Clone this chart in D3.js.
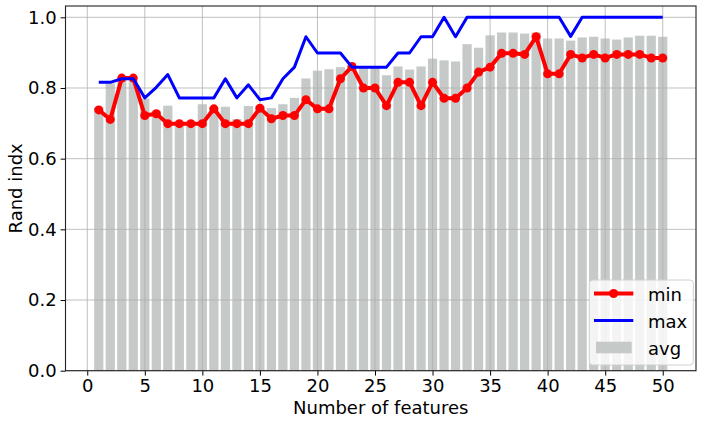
<!DOCTYPE html>
<html>
<head>
<meta charset="utf-8">
<script src="https://cdn.jsdelivr.net/npm/d3@7"></script>
<style>
  body { margin: 0; background: #fff; }
  svg { display: block; font-family: "DejaVu Sans", sans-serif; }
</style>
</head>
<body>
<script>
const width = 703;
const height = 424;
const marginTop = 6;
const marginRight = 7;
const marginBottom = 53.3;
const marginLeft = 65.5;

// number of features 1..50
const features = d3.range(1, 51);

const minVals = [0.738, 0.711, 0.828, 0.828, 0.722, 0.727, 0.699, 0.699, 0.699, 0.699,
                 0.741, 0.699, 0.699, 0.699, 0.743, 0.713, 0.722, 0.722, 0.767, 0.741,
                 0.741, 0.826, 0.861, 0.800, 0.800, 0.750, 0.816, 0.816, 0.750, 0.816,
                 0.771, 0.771, 0.800, 0.845, 0.859, 0.898, 0.898, 0.895, 0.945, 0.840,
                 0.840, 0.895, 0.885, 0.895, 0.885, 0.895, 0.895, 0.895, 0.885, 0.885];

const maxVals = [0.816, 0.816, 0.826, 0.826, 0.772, 0.802, 0.838, 0.772, 0.772, 0.772,
                 0.772, 0.826, 0.772, 0.809, 0.767, 0.772, 0.826, 0.859, 0.945, 0.899,
                 0.899, 0.899, 0.859, 0.859, 0.859, 0.859, 0.899, 0.899, 0.945, 0.945,
                 1.000, 0.945, 1.000, 1.000, 1.000, 1.000, 1.000, 1.000, 1.000, 1.000,
                 1.000, 0.946, 1.000, 1.000, 1.000, 1.000, 1.000, 1.000, 1.000, 1.000];

const avgVals = [0.745, 0.813, 0.825, 0.822, 0.770, 0.735, 0.750, 0.705, 0.705, 0.754,
                 0.745, 0.747, 0.712, 0.749, 0.749, 0.743, 0.754, 0.772, 0.827, 0.849,
                 0.853, 0.859, 0.860, 0.857, 0.857, 0.836, 0.861, 0.852, 0.861, 0.883,
                 0.878, 0.875, 0.924, 0.914, 0.949, 0.957, 0.957, 0.954, 0.957, 0.940,
                 0.940, 0.934, 0.943, 0.945, 0.940, 0.937, 0.943, 0.948, 0.948, 0.945];

const xTicks = [0, 5, 10, 15, 20, 25, 30, 35, 40, 45, 50];
const yTicks = [0.0, 0.2, 0.4, 0.6, 0.8, 1.0];

const x = d3.scaleLinear()
  .domain([-1.89, 52.89])
  .range([marginLeft, width - marginRight]);

const y = d3.scaleLinear()
  .domain([0, 1.032])
  .range([height - marginBottom, marginTop]);

const svg = d3.select("body").append("svg")
  .attr("width", width)
  .attr("height", height)
  .attr("viewBox", [0, 0, width, height]);

// bars (avg)
const barW = x(0.8) - x(0);
svg.append("g")
  .selectAll("rect")
  .data(features)
  .join("rect")
    .attr("x", d => x(d) - barW / 2)
    .attr("width", barW)
    .attr("y", (d, i) => y(avgVals[i]))
    .attr("height", (d, i) => y(0) - y(avgVals[i]))
    .attr("fill", "#c5c9c7");

// grid
const grid = svg.append("g").attr("stroke", "#b0b0b0").attr("stroke-width", 0.8);
grid.selectAll(".gx")
  .data(xTicks)
  .join("line")
    .attr("x1", d => x(d)).attr("x2", d => x(d))
    .attr("y1", marginTop).attr("y2", height - marginBottom);
grid.selectAll(".gy")
  .data(yTicks)
  .join("line")
    .attr("class", "gy")
    .attr("y1", d => y(d)).attr("y2", d => y(d))
    .attr("x1", marginLeft).attr("x2", width - marginRight);

// min line with markers
const line = d3.line()
  .x((d, i) => x(features[i]))
  .y(d => y(d));

svg.append("path")
  .datum(minVals)
  .attr("fill", "none")
  .attr("stroke", "red")
  .attr("stroke-width", 4)
  .attr("stroke-linejoin", "round")
  .attr("d", line);

svg.append("g")
  .selectAll("circle")
  .data(minVals)
  .join("circle")
    .attr("cx", (d, i) => x(features[i]))
    .attr("cy", d => y(d))
    .attr("r", 4.5)
    .attr("fill", "red");

// max line
svg.append("path")
  .datum(maxVals)
  .attr("fill", "none")
  .attr("stroke", "blue")
  .attr("stroke-width", 3)
  .attr("stroke-linejoin", "round")
  .attr("d", line);

// axes
svg.append("g")
  .attr("transform", `translate(0,${height - marginBottom})`)
  .call(d3.axisBottom(x).tickValues(xTicks).tickSize(4.9).tickPadding(4))
  .call(g => g.select(".domain").remove())
  .call(g => g.selectAll("text").attr("font-size", 18).attr("font-family", "DejaVu Sans").attr("fill", "#000"));

svg.append("g")
  .attr("transform", `translate(${marginLeft},0)`)
  .call(d3.axisLeft(y).tickValues(yTicks).tickFormat(d3.format(".1f")).tickSize(4.9).tickPadding(4))
  .call(g => g.select(".domain").remove())
  .call(g => g.selectAll("text").attr("font-size", 18).attr("font-family", "DejaVu Sans").attr("fill", "#000"));

// frame
svg.append("rect")
  .attr("x", marginLeft)
  .attr("y", marginTop)
  .attr("width", width - marginRight - marginLeft)
  .attr("height", height - marginBottom - marginTop)
  .attr("fill", "none")
  .attr("stroke", "#222")
  .attr("stroke-width", 1.1);

// labels
svg.append("text")
  .text("Number of features")
  .attr("x", (marginLeft + width - marginRight) / 2)
  .attr("y", 414)
  .attr("text-anchor", "middle")
  .style("font-size", "18px");

svg.append("text")
  .text("Rand indx")
  .attr("transform", `translate(21.5,${(marginTop + height - marginBottom) / 2}) rotate(-90)`)
  .attr("text-anchor", "middle")
  .style("font-size", "18px");

// legend
const legend = svg.append("g");
legend.append("rect")
  .attr("x", 589.3).attr("y", 280)
  .attr("width", 104).attr("height", 85)
  .attr("rx", 3.5)
  .attr("fill", "#fff").attr("fill-opacity", 0.8)
  .attr("stroke", "#d0d0d0");

legend.append("line")
  .attr("x1", 594).attr("x2", 633.3).attr("y1", 293.5).attr("y2", 293.5)
  .attr("stroke", "red").attr("stroke-width", 4);
legend.append("circle")
  .attr("cx", 613.6).attr("cy", 293.5).attr("r", 4.5).attr("fill", "red");
legend.append("line")
  .attr("x1", 594).attr("x2", 633.3).attr("y1", 320.5).attr("y2", 320.5)
  .attr("stroke", "blue").attr("stroke-width", 3);
legend.append("rect")
  .attr("x", 596).attr("y", 341.7).attr("width", 35.7).attr("height", 11.6)
  .attr("fill", "#c5c9c7");

legend.selectAll("text")
  .data(["min", "max", "avg"])
  .join("text")
    .text(d => d)
    .attr("x", 648)
    .attr("y", (d, i) => 300.5 + i * 27)
    .style("font-size", "18px");
</script>
</body>
</html>
